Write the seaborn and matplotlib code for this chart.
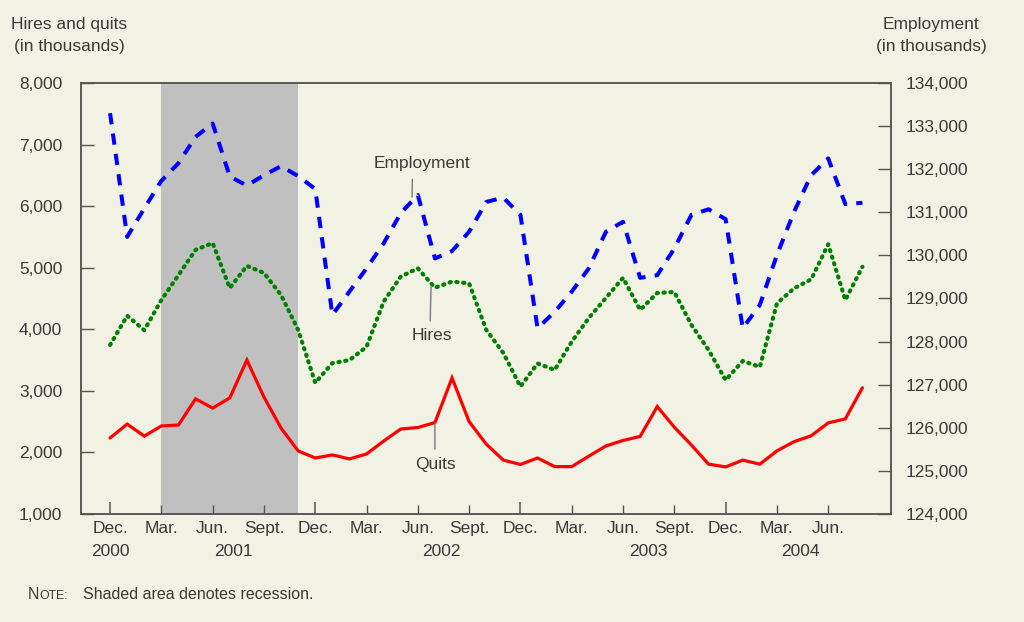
# -------------- importaciones

import pandas as pd
import matplotlib
matplotlib.use("Agg")
from matplotlib import pyplot as plt
import matplotlib.transforms as mtransforms
import seaborn as sns

# -------------- fin de las importaciones

# 1. datos mensuales, dic 2000 a ago 2004 (en miles)

meses = pd.date_range("2000-12-01", periods=45, freq="MS")

empleo = [133300, 130430, 131090, 131730, 132140, 132750, 133060, 131830, 131620,
          131860, 132070, 131840, 131540, 128620, 129160, 129700, 130280, 130980,
          131400, 129930, 130100, 130550, 131240, 131340, 130940, 128310, 128690,
          129160, 129700, 130550, 130780, 129480, 129540, 130160, 130940, 131070,
          130840, 128310, 128850, 130010, 131010, 131860, 132250, 131190, 131220]

contrataciones = [3745, 4220, 3985, 4475, 4880, 5290, 5400, 4670, 5030, 4915, 4555,
                  3990, 3130, 3450, 3500, 3715, 4450, 4855, 4990, 4675, 4775, 4745,
                  3990, 3615, 3070, 3445, 3340, 3800, 4185, 4510, 4835, 4315, 4590,
                  4605, 4070, 3665, 3175, 3485, 3390, 4420, 4665, 4810, 5380, 4475,
                  5015]

renuncias = [2235, 2460, 2265, 2430, 2445, 2870, 2720, 2885, 3500, 2900, 2395, 2025,
             1910, 1960, 1895, 1975, 2185, 2380, 2405, 2485, 3210, 2500, 2135, 1875,
             1805, 1910, 1770, 1770, 1940, 2105, 2195, 2260, 2745, 2410, 2120, 1810,
             1765, 1875, 1810, 2025, 2175, 2270, 2480, 2545, 3050]

etiquetas_trimestre = ["Dec.", "Mar.", "Jun.", "Sept."]
anios = ["2000", "2001", "2002", "2003", "2004"]

# recesion: mar 2001 a nov 2001
inicio_recesion = pd.Timestamp("2001-03-01")
fin_recesion = pd.Timestamp("2001-11-01")

df = pd.DataFrame({
    "Mes": range(len(meses)),
    "Empleo": empleo,
    "Contrataciones": contrataciones,
    "Renuncias": renuncias,
})

# 2. estilo general

fondo = "#f1f1e4"
gris_texto = "#3a3a3a"
gris_eje = "#555555"

sns.set_style("ticks")
plt.rcParams["font.family"] = ["Liberation Sans", "DejaVu Sans"]
plt.rcParams["text.color"] = gris_texto
plt.rcParams["xtick.color"] = gris_eje
plt.rcParams["ytick.color"] = gris_eje
plt.rcParams["xtick.labelcolor"] = gris_texto
plt.rcParams["ytick.labelcolor"] = gris_texto

fig = plt.figure(figsize=(10.24, 6.22), dpi=100, facecolor=fondo)
ax = fig.add_axes([0.0791, 0.1736, 0.7915, 0.6930], facecolor=fondo)
ax2 = ax.twinx()

# 3. sombreado de la recesion

pos_ini = meses.get_loc(inicio_recesion)
pos_fin = meses.get_loc(fin_recesion)
ax.axvspan(pos_ini, pos_fin, color="#c0c0c0", lw=0, zorder=0)

# 4. lineas: contrataciones y renuncias (eje izq), empleo (eje der)

sns.lineplot(data=df, x="Mes", y="Contrataciones", ax=ax, color="#008000",
             linewidth=3.0, linestyle=(0, (0.3, 1.35)), dash_capstyle="round")
sns.lineplot(data=df, x="Mes", y="Renuncias", ax=ax, color="#ff0000",
             linewidth=2.3, solid_joinstyle="miter")
sns.lineplot(data=df, x="Mes", y="Empleo", ax=ax2, color="#0000ff",
             linewidth=2.9, linestyle=(0, (2.8, 2.3)))

# 5. ejes

ax.set_xlim(-1.70, 45.70)
ax.set_ylim(1000, 8000)
ax2.set_ylim(124000, 134000)
ax.set_yticks(range(1000, 8001, 1000))
ax2.set_yticks(range(124000, 134001, 1000))
ax.set_yticklabels([f"{v:,}" for v in range(1000, 8001, 1000)])
ax2.set_yticklabels([f"{v:,}" for v in range(124000, 134001, 1000)])

trimestres = list(range(0, 43, 3))
diciembres = [t for t in trimestres if meses[t].month == 12]
otros = [t for t in trimestres if meses[t].month != 12]
ax.set_xticks(diciembres)
ax.set_xticklabels(["Dec."] * len(diciembres))
ax.set_xticks(otros, minor=True)
ax.set_xticklabels([etiquetas_trimestre[(t // 3) % 4] for t in otros], minor=True)

ax.set_xlabel("")
ax.set_ylabel("")
ax2.set_ylabel("")

for a in (ax, ax2):
    for lado in a.spines.values():
        lado.set_visible(True)
        lado.set_color(gris_eje)
        lado.set_linewidth(1.1)

ax.tick_params(axis="x", which="major", direction="in", length=8.6, width=1.1,
               pad=5, labelsize=12.5)
ax.tick_params(axis="x", which="minor", direction="in", length=6.3, width=1.0,
               pad=5, labelsize=12.5)
ax.tick_params(axis="y", direction="in", length=9.0, width=1.0, pad=13.5,
               labelsize=12.5)
ax2.tick_params(axis="y", direction="in", length=9.3, width=1.0, pad=10.4,
                labelsize=12.5)

# anios debajo de los meses
pos_anios = [0, 7.2, 19.4, 31.5, 40.4]
trans = mtransforms.blended_transform_factory(ax.transData, ax.transAxes)
for p, anio in zip(pos_anios, anios):
    ax.text(p, -0.088, anio, transform=trans, ha="center", va="center",
            fontsize=12.5, color=gris_texto)

# 6. titulos de los ejes y etiquetas de las series

fig.text(69 / 1024, 1 - 25 / 622, "Hires and quits", ha="center", va="center", fontsize=12.5)
fig.text(69 / 1024, 1 - 47 / 622, "(in thousands)", ha="center", va="center", fontsize=12.5)
fig.text(931 / 1024, 1 - 25 / 622, "Employment", ha="center", va="center", fontsize=12.5)
fig.text(931 / 1024, 1 - 47 / 622, "(in thousands)", ha="center", va="center", fontsize=12.5)

guia = dict(arrowstyle="-", color="#7a7a7a", lw=1.0, shrinkB=0)
ax2.annotate("Employment", xy=(17.66, 131354), xytext=(18.25, 132143),
             ha="center", va="center", fontsize=12.5,
             arrowprops=dict(guia, relpos=(0.4, 0), shrinkA=4))
ax.annotate("Hires", xy=(18.77, 4686), xytext=(18.83, 3891),
            ha="center", va="center", fontsize=12.5,
            arrowprops=dict(guia, relpos=(0.45, 1), shrinkA=3))
ax.annotate("Quits", xy=(19.0, 2478), xytext=(19.0, 1812),
            ha="center", va="center", fontsize=12.5,
            arrowprops=dict(guia, relpos=(0.5, 1), shrinkA=3))

# 7. nota al pie (versalitas a mano)

fig.text(28 / 1024, 1 - 599 / 622, "N", fontsize=11.5, va="baseline")
fig.text(39 / 1024, 1 - 599 / 622, "OTE:", fontsize=8.8, va="baseline")
fig.text(83 / 1024, 1 - 599 / 622, "Shaded area denotes recession.", fontsize=11.5,
         va="baseline")

fig.savefig("out.png", dpi=100, facecolor=fondo)
